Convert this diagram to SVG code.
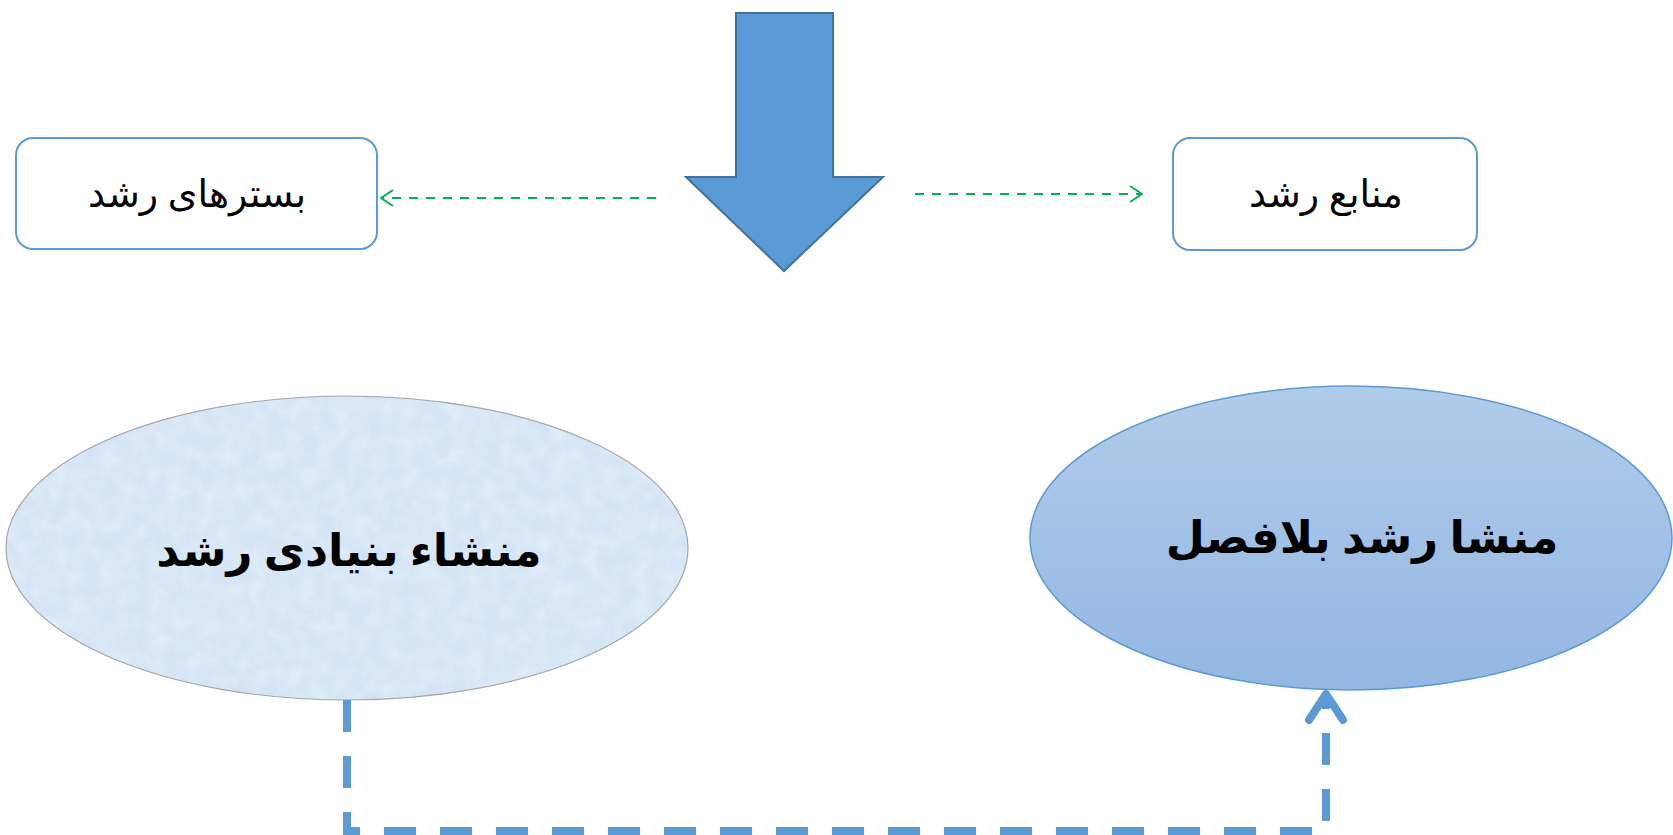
<svg xmlns="http://www.w3.org/2000/svg" width="1673" height="835" viewBox="0 0 1673 835">
<style>
.box{fill:#ffffff;stroke:#5b9bd5;stroke-width:2}
.lbl{font-family:"Liberation Serif","DejaVu Sans",sans-serif;font-size:38px;fill:#000;text-anchor:middle}
.big{font-family:"Liberation Serif","DejaVu Sans",sans-serif;font-size:45px;font-weight:bold;fill:#000;text-anchor:middle}
.green{fill:none;stroke:#00b050;stroke-width:2;stroke-dasharray:9 8}
.blue{fill:none;stroke:#5b9bd5;stroke-width:8;stroke-dasharray:32 24}
</style>
<defs>
<linearGradient id="gR" x1="0" y1="0" x2="0" y2="1">
<stop offset="0" stop-color="#b1cbea"/>
<stop offset="1" stop-color="#93b7e2"/>
</linearGradient>
<filter id="tex" x="0" y="0" width="1" height="1">
<feTurbulence type="fractalNoise" baseFrequency="0.06" numOctaves="3" seed="4" result="n"/>
<feColorMatrix in="n" type="matrix" values="0 0 0 0 0.78  0 0 0 0 0.86  0 0 0 0 0.95  0 0 0 1.4 -0.4" result="c"/>
<feComposite in="c" in2="SourceGraphic" operator="in" result="t"/>
<feMerge><feMergeNode in="SourceGraphic"/><feMergeNode in="t"/></feMerge>
</filter>
<marker id="gArr" viewBox="0 0 14 18" refX="13" refY="9" markerWidth="14" markerHeight="18" markerUnits="userSpaceOnUse" orient="auto">
<path d="M1,1 L13,9 L1,17" fill="none" stroke="#00b050" stroke-width="2"/>
</marker>
</defs>
<g id="arrow-main">
<polygon points="736,13 833,13 833,177 883,177 784,271 686,177 736,177" fill="#5b9bd5" stroke="#41719c" stroke-width="2"/>
</g>
<g id="node-bastar">
<rect class="box" x="16" y="138" width="361" height="111" rx="17"/>
<text class="lbl" x="197" y="207" direction="rtl">بسترهای رشد</text>
</g>
<g id="node-manabe">
<rect class="box" x="1173" y="138" width="304" height="112" rx="17"/>
<text class="lbl" x="1326" y="207" direction="rtl">منابع رشد</text>
</g>
<g id="node-bonyadi">
<ellipse cx="347" cy="548" rx="341" ry="152" fill="#d3e4f5" filter="url(#tex)"/>
<ellipse cx="347" cy="548" rx="341" ry="152" fill="none" stroke="#a6a6a6" stroke-width="1.2"/>
<text class="big" x="349" y="566" direction="rtl">منشاء بنیادی رشد</text>
</g>
<g id="node-belafasl">
<ellipse cx="1351" cy="538" rx="321" ry="152" fill="url(#gR)" stroke="#5b9bd5" stroke-width="1.5"/>
<text class="big" x="1362" y="553" direction="rtl">منشا رشد بلافصل</text>
</g>
<g id="connectors">
<line class="green" x1="656" y1="198" x2="381" y2="198" marker-end="url(#gArr)"/>
<line class="green" x1="915" y1="194" x2="1142" y2="194" marker-end="url(#gArr)"/>
<path class="blue" d="M347,700 L347,831 L1326,831 L1326,700"/>
<path d="M1309,720 L1326,694 L1343,720" fill="none" stroke="#5b9bd5" stroke-width="8" stroke-linecap="round" stroke-linejoin="round"/>
</g>
</svg>
